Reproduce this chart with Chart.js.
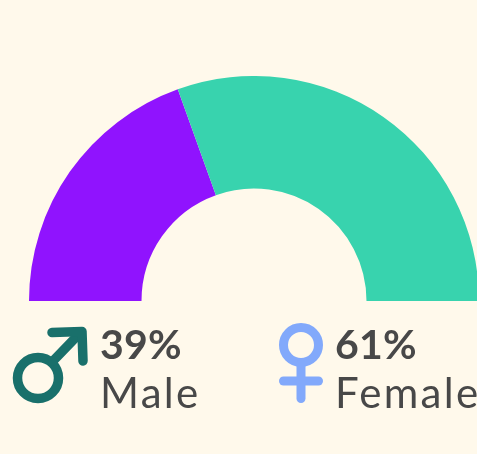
<!DOCTYPE html>
<html>
<head>
<meta charset="utf-8">
<script src="https://cdn.jsdelivr.net/npm/chart.js@4"></script>
<style>
  html, body { margin: 0; height: 100%; background: #fff9eb; overflow: hidden; }
  #wrap { position: absolute; left: 29px; top: 76px; width: 450px; height: 225px; }
  .pct, .name { position: absolute; font-family: Lato, sans-serif; color: #484848; white-space: nowrap; line-height: 1; }
  .pct { font-size: 41px; font-weight: 700; letter-spacing: 0.2px; }
  .name { font-size: 42px; font-weight: 400; letter-spacing: 2.3px; }
  svg { position: absolute; left: 0; top: 0; }
</style>
</head>
<body>
<div id="wrap"><canvas id="gender-chart" width="450" height="225"></canvas></div>
<svg width="477" height="454" fill="none" stroke-linecap="round" stroke-linejoin="round">
  <g stroke="#19706b" stroke-width="9.5">
    <circle cx="38" cy="378" r="20.5"></circle>
    <path d="M53 361 L81 332"></path>
    <path d="M52 332.5 L82 331.5 L83 361"></path>
  </g>
  <g stroke="#82a9fb" stroke-width="9">
    <circle cx="301" cy="345" r="17.5"></circle>
    <path d="M301 364 L301 398.5"></path>
    <path d="M283.5 381 L318.5 381"></path>
  </g>
</svg>
<div class="pct" style="left:100px;top:323px" id="pct-0"></div>
<div class="name" style="left:100px;top:371px" id="name-0"></div>
<div class="pct" style="left:335px;top:323px" id="pct-1"></div>
<div class="name" style="left:335px;top:371px" id="name-1"></div>
<script>
const categories = ['Male', 'Female'];
const shares = [39, 61];
const sliceColors = ['#9013fe', '#38d3ae'];

categories.forEach((name, i) => {
  document.getElementById('pct-' + i).textContent = shares[i] + '%';
  document.getElementById('name-' + i).textContent = name;
});

new Chart(document.getElementById('gender-chart'), {
  type: 'doughnut',
  data: {
    labels: categories,
    datasets: [
      {
        data: shares,
        backgroundColor: sliceColors,
        borderWidth: 0
      }
    ]
  },
  options: {
    responsive: false,
    animation: false,
    rotation: -90,
    circumference: 180,
    cutout: '50%',
    layout: { padding: 0 },
    plugins: {
      legend: { display: false },
      tooltip: { enabled: false }
    }
  }
});
</script>
</body>
</html>
